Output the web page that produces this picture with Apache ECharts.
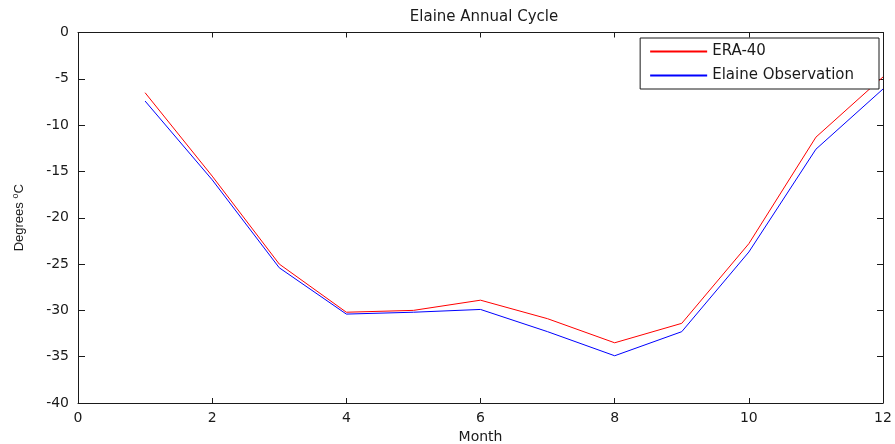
<!DOCTYPE html>
<html><head><meta charset="utf-8">
<script src="https://cdn.jsdelivr.net/npm/echarts@6/dist/echarts.min.js"></script>
<style>html,body{margin:0;padding:0;background:#fff}#c{width:895px;height:444px}</style>
</head><body><div id="c"></div>
<script>
var months = [1,2,3,4,5,6,7,8,9,10,11,12];
var era40 = [-6.5,-15.5,-25.0,-30.2,-30.0,-28.9,-30.9,-33.5,-31.4,-22.8,-11.3,-4.8];
var elaineObs = [-7.4,-15.9,-25.4,-30.4,-30.2,-29.9,-32.3,-34.9,-32.3,-23.7,-12.6,-6.1];
var xTicks = [0,2,4,6,8,10,12];
var yTicks = [-40,-35,-30,-25,-20,-15,-10,-5,0];

function pairs(v){ return months.map(function(m,i){return [m, v[i]];}); }
var font = 'DejaVu Sans';
var col = '#1a1a1a';
var chart = echarts.init(document.getElementById('c'));
chart.setOption({
  animation:false,
  backgroundColor:'#fff',
  title:{text:'Elaine Annual Cycle', left:479, top:5, textAlign:'center',
    textStyle:{fontFamily:font, fontSize:15, fontWeight:'normal', color:col}},
  grid:{left:78, right:12, top:32.5, bottom:41, show:false, containLabel:false, outerBoundsMode:'none'},
  legend:{right:16, top:38, orient:'vertical', itemWidth:57, itemHeight:2, itemGap:9,
    backgroundColor:'#fff', borderColor:col, borderWidth:1, borderRadius:0, padding:[6,25,6,10],
    icon:'rect', textStyle:{fontFamily:font, fontSize:15, color:col},
    data:['ERA-40','Elaine Observation']},
  xAxis:[{type:'value', min:xTicks[0], max:xTicks[xTicks.length-1], interval:2,
    name:'Month', nameLocation:'middle', nameGap:27, nameTextStyle:{fontFamily:font,fontSize:14,color:col},
    axisLine:{show:true,onZero:false,lineStyle:{color:col}}, axisTick:{show:true,inside:true, length:5, lineStyle:{color:col}},
    axisLabel:{fontFamily:font, fontSize:14, color:col, margin:8}, splitLine:{show:false}},
    {type:'value', position:'top', min:0, max:12, interval:2, axisLine:{show:true,onZero:false,lineStyle:{color:col}},
    axisTick:{show:true,inside:true,length:5,lineStyle:{color:col}}, axisLabel:{show:false}, splitLine:{show:false}}],
  yAxis:[{type:'value', min:yTicks[0], max:yTicks[yTicks.length-1], interval:5,
    name:'{n|Degrees }{s|o}{n|C}', nameLocation:'middle', nameGap:50, nameRotate:90,
    nameTextStyle:{fontFamily:'Liberation Sans', fontSize:13, color:col,
      rich:{n:{fontFamily:'Liberation Sans',fontSize:13,color:col}, s:{fontFamily:'Liberation Sans',fontSize:9,color:col,verticalAlign:'top',padding:[0,0,8,0]}}},
    axisLine:{show:true,onZero:false,lineStyle:{color:col}}, axisTick:{show:true,inside:true,length:7,lineStyle:{color:col}},
    axisLabel:{fontFamily:font, fontSize:14, color:col, margin:9}, splitLine:{show:false}},
    {type:'value', position:'right', min:-40, max:0, interval:5, axisLine:{show:true,onZero:false,lineStyle:{color:col}},
    axisTick:{show:true,inside:true,length:6,lineStyle:{color:col}}, axisLabel:{show:false}, splitLine:{show:false}}],
  series:[
    {name:'ERA-40', type:'line', data:pairs(era40), showSymbol:false, symbol:'none',
      lineStyle:{color:'#ff0000', width:1}, itemStyle:{color:'#ff0000'}},
    {name:'Elaine Observation', type:'line', data:pairs(elaineObs), showSymbol:false, symbol:'none',
      lineStyle:{color:'#0000ff', width:1}, itemStyle:{color:'#0000ff'}}
  ]
});
</script></body></html>
